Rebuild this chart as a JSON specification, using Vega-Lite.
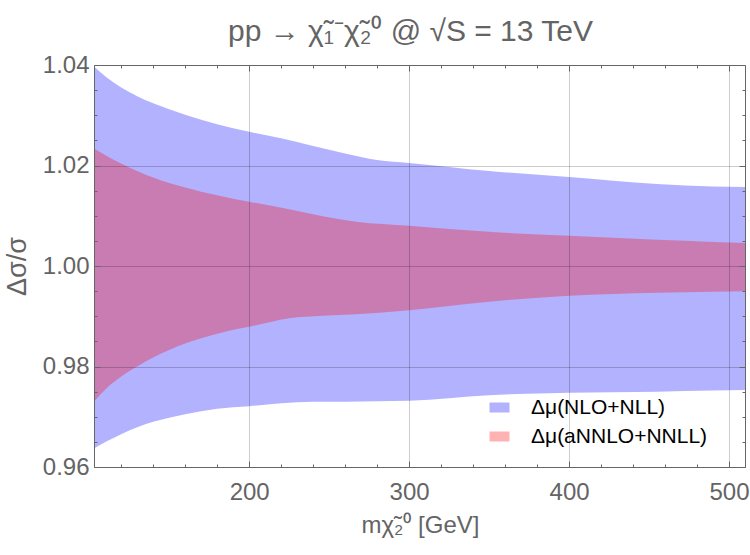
{
  "$schema": "https://vega.github.io/schema/vega-lite/v6.json",
  "width": 651,
  "height": 402,
  "autosize": {"type": "none"},
  "padding": {"left": 94, "top": 65, "right": 5, "bottom": 88},
  "background": "white",
  "title": {
    "text": "pp → χ̃₁⁻χ̃₂⁰ @ √S = 13 TeV",
    "font": "Liberation Sans",
    "fontSize": 30,
    "fontWeight": "normal",
    "color": "#646464",
    "anchor": "middle",
    "frame": "group",
    "baseline": "alphabetic",
    "offset": 22,
    "dx": -9,
    "dy": 40
  },
  "config": {
    "view": {"stroke": null},
    "axis": {
      "labelFont": "Liberation Sans",
      "titleFont": "Liberation Sans",
      "labelColor": "#646464",
      "titleColor": "#646464",
      "tickColor": "#666666",
      "domainColor": "#666666",
      "labelFlush": false,
      "labelOverlap": false,
      "titleFontWeight": "normal"
    }
  },
  "data": {
    "values": [
      {"s": "Δμ(NLO+NLL)", "m": 103, "lo": 0.9637, "hi": 1.0397},
      {"s": "Δμ(NLO+NLL)", "m": 111, "lo": 0.9651, "hi": 1.0375},
      {"s": "Δμ(NLO+NLL)", "m": 120, "lo": 0.9665, "hi": 1.0355},
      {"s": "Δμ(NLO+NLL)", "m": 130, "lo": 0.9679, "hi": 1.0338},
      {"s": "Δμ(NLO+NLL)", "m": 140, "lo": 0.9690, "hi": 1.0324},
      {"s": "Δμ(NLO+NLL)", "m": 150, "lo": 0.9698, "hi": 1.0312},
      {"s": "Δμ(NLO+NLL)", "m": 160, "lo": 0.9705, "hi": 1.0301},
      {"s": "Δμ(NLO+NLL)", "m": 170, "lo": 0.9711, "hi": 1.0291},
      {"s": "Δμ(NLO+NLL)", "m": 180, "lo": 0.9716, "hi": 1.0282},
      {"s": "Δμ(NLO+NLL)", "m": 190, "lo": 0.9719, "hi": 1.0274},
      {"s": "Δμ(NLO+NLL)", "m": 200, "lo": 0.9721, "hi": 1.0267},
      {"s": "Δμ(NLO+NLL)", "m": 220, "lo": 0.9727, "hi": 1.0254},
      {"s": "Δμ(NLO+NLL)", "m": 240, "lo": 0.9730, "hi": 1.0239},
      {"s": "Δμ(NLO+NLL)", "m": 260, "lo": 0.9730, "hi": 1.0224},
      {"s": "Δμ(NLO+NLL)", "m": 280, "lo": 0.9731, "hi": 1.0211},
      {"s": "Δμ(NLO+NLL)", "m": 300, "lo": 0.9732, "hi": 1.0205},
      {"s": "Δμ(NLO+NLL)", "m": 350, "lo": 0.9743, "hi": 1.0189},
      {"s": "Δμ(NLO+NLL)", "m": 400, "lo": 0.9748, "hi": 1.0177},
      {"s": "Δμ(NLO+NLL)", "m": 455, "lo": 0.9750, "hi": 1.0163},
      {"s": "Δμ(NLO+NLL)", "m": 490, "lo": 0.9752, "hi": 1.0158},
      {"s": "Δμ(NLO+NLL)", "m": 510, "lo": 0.9753, "hi": 1.0157},
      {"s": "Δμ(aNNLO+NNLL)", "m": 103, "lo": 0.9730, "hi": 1.0234},
      {"s": "Δμ(aNNLO+NNLL)", "m": 111, "lo": 0.9757, "hi": 1.0219},
      {"s": "Δμ(aNNLO+NNLL)", "m": 120, "lo": 0.9780, "hi": 1.0204},
      {"s": "Δμ(aNNLO+NNLL)", "m": 130, "lo": 0.9800, "hi": 1.0189},
      {"s": "Δμ(aNNLO+NNLL)", "m": 140, "lo": 0.9818, "hi": 1.0176},
      {"s": "Δμ(aNNLO+NNLL)", "m": 150, "lo": 0.9833, "hi": 1.0165},
      {"s": "Δμ(aNNLO+NNLL)", "m": 160, "lo": 0.9846, "hi": 1.0156},
      {"s": "Δμ(aNNLO+NNLL)", "m": 170, "lo": 0.9856, "hi": 1.0148},
      {"s": "Δμ(aNNLO+NNLL)", "m": 180, "lo": 0.9865, "hi": 1.0141},
      {"s": "Δμ(aNNLO+NNLL)", "m": 190, "lo": 0.9873, "hi": 1.0134},
      {"s": "Δμ(aNNLO+NNLL)", "m": 200, "lo": 0.9879, "hi": 1.0128},
      {"s": "Δμ(aNNLO+NNLL)", "m": 225, "lo": 0.9896, "hi": 1.0113},
      {"s": "Δμ(aNNLO+NNLL)", "m": 246, "lo": 0.9901, "hi": 1.0099},
      {"s": "Δμ(aNNLO+NNLL)", "m": 267, "lo": 0.9904, "hi": 1.0088},
      {"s": "Δμ(aNNLO+NNLL)", "m": 300, "lo": 0.9912, "hi": 1.0080},
      {"s": "Δμ(aNNLO+NNLL)", "m": 350, "lo": 0.9929, "hi": 1.0068},
      {"s": "Δμ(aNNLO+NNLL)", "m": 400, "lo": 0.9941, "hi": 1.0060},
      {"s": "Δμ(aNNLO+NNLL)", "m": 455, "lo": 0.9947, "hi": 1.0052},
      {"s": "Δμ(aNNLO+NNLL)", "m": 490, "lo": 0.9949, "hi": 1.0048},
      {"s": "Δμ(aNNLO+NNLL)", "m": 510, "lo": 0.9950, "hi": 1.0046}
    ]
  },
  "resolve": {"axis": {"x": "independent", "y": "independent"}},
  "layer": [
    {
      "transform": [{"filter": "datum.s === 'Δμ(NLO+NLL)'"}],
      "mark": {"type": "area", "opacity": 0.3, "interpolate": "monotone"},
      "encoding": {
        "x": {
          "field": "m", "type": "quantitative",
          "scale": {"domain": [103, 510], "nice": false, "zero": false},
          "axis": {
            "orient": "bottom", "values": [200, 300, 400, 500],
            "tickSize": -6, "labelPadding": 19, "labelFontSize": 24,
            "grid": true, "gridColor": "#000000", "gridOpacity": 0.2,
            "domain": true, "zindex": 1,
            "title": "mχ̃₂⁰  [GeV]", "titleFontSize": 24,
            "titleX": 326, "titleY": 58, "titleBaseline": "middle", "titleAlign": "center"
          }
        },
        "y": {
          "field": "lo", "type": "quantitative",
          "scale": {"domain": [0.96, 1.04], "nice": false, "zero": false},
          "axis": {
            "orient": "left", "values": [0.96, 0.98, 1.0, 1.02, 1.04], "format": ".2f",
            "tickSize": -6, "labelPadding": 11, "labelFontSize": 24,
            "grid": true, "gridColor": "#000000", "gridOpacity": 0.2,
            "domain": true, "zindex": 1,
            "title": "Δσ/σ", "titleFontSize": 27,
            "titleX": -77, "titleY": 201, "titleAngle": -90,
            "titleBaseline": "middle", "titleAlign": "center"
          }
        },
        "y2": {"field": "hi"},
        "color": {
          "field": "s", "type": "nominal",
          "scale": {"domain": ["Δμ(NLO+NLL)", "Δμ(aNNLO+NNLL)"], "range": ["#0000ff", "#ff0000"]},
          "legend": {
            "orient": "none", "legendX": 395, "legendY": 332, "padding": 0,
            "title": null,
            "symbolType": "M-1,-0.5H1V0.5H-1Z", "symbolSize": 400, "symbolStrokeWidth": 0,
            "labelFont": "Liberation Sans", "labelFontSize": 21, "labelColor": "#000000",
            "labelOffset": 21, "rowPadding": 7, "labelLimit": 400
          }
        }
      }
    },
    {
      "transform": [{"filter": "datum.s === 'Δμ(aNNLO+NNLL)'"}],
      "mark": {"type": "area", "opacity": 0.3, "interpolate": "monotone"},
      "encoding": {
        "x": {
          "field": "m", "type": "quantitative",
          "axis": {
            "orient": "top", "values": [200, 300, 400, 500],
            "tickSize": -6, "labels": false, "grid": false, "domain": true, "zindex": 1, "title": null
          }
        },
        "y": {
          "field": "lo", "type": "quantitative",
          "axis": {
            "orient": "right", "values": [0.96, 0.98, 1.0, 1.02, 1.04],
            "tickSize": -6, "labels": false, "grid": false, "domain": true, "zindex": 1, "title": null
          }
        },
        "y2": {"field": "hi"},
        "color": {"field": "s", "type": "nominal"}
      }
    },
    {
      "mark": {"type": "point", "opacity": 0},
      "encoding": {
        "x": {
          "field": "m", "type": "quantitative",
          "axis": {
            "orient": "bottom",
            "values": [120, 140, 160, 180, 220, 240, 260, 280, 320, 340, 360, 380, 420, 440, 460, 480],
            "tickSize": -3, "labels": false, "grid": false, "domain": false, "zindex": 1, "title": null
          }
        },
        "y": {
          "field": "lo", "type": "quantitative",
          "axis": {
            "orient": "left",
            "values": [0.965, 0.97, 0.975, 0.985, 0.99, 0.995, 1.005, 1.01, 1.015, 1.025, 1.03, 1.035],
            "tickSize": -3, "labels": false, "grid": false, "domain": false, "zindex": 1, "title": null
          }
        }
      }
    },
    {
      "mark": {"type": "point", "opacity": 0},
      "encoding": {
        "x": {
          "field": "m", "type": "quantitative",
          "axis": {
            "orient": "top",
            "values": [120, 140, 160, 180, 220, 240, 260, 280, 320, 340, 360, 380, 420, 440, 460, 480],
            "tickSize": -3, "labels": false, "grid": false, "domain": false, "zindex": 1, "title": null
          }
        },
        "y": {
          "field": "hi", "type": "quantitative",
          "axis": {
            "orient": "right",
            "values": [0.965, 0.97, 0.975, 0.985, 0.99, 0.995, 1.005, 1.01, 1.015, 1.025, 1.03, 1.035],
            "tickSize": -3, "labels": false, "grid": false, "domain": false, "zindex": 1, "title": null
          }
        }
      }
    }
  ]
}
